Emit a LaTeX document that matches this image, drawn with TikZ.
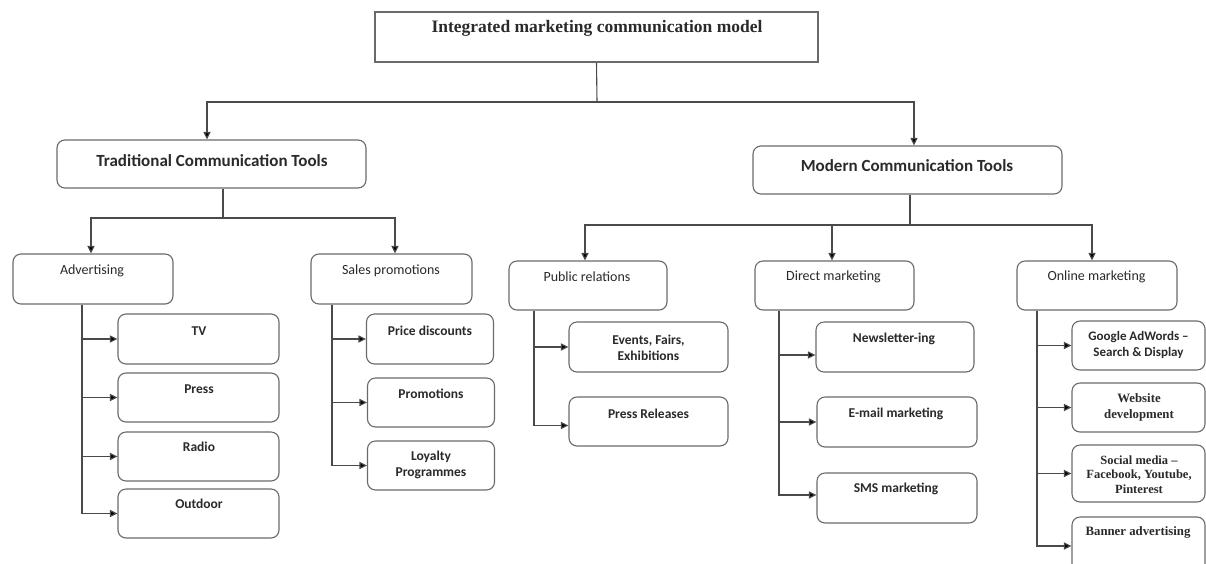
\documentclass[tikz,border=0pt]{standalone}
\usepackage{fontspec}
\setmainfont{Liberation Serif}
\newfontfamily\cfont[Ligatures=TeX]{Carlito}
\usetikzlibrary{arrows.meta}
\definecolor{boxgray}{HTML}{6A6A6A}
\definecolor{linegray}{HTML}{4A4A4A}
\definecolor{txt}{HTML}{2A2A2A}

\begin{document}
\begin{tikzpicture}[x=1pt,y=-1pt,
  box/.style={draw=boxgray, line width=1.1pt, rounded corners=8pt, inner sep=0pt, fill=white},
  sqbox/.style={draw=boxgray, line width=1.1pt, inner sep=0pt, fill=white},
  tmain/.style={font=\fontsize{17.5}{20}\selectfont\bfseries, text=txt, inner sep=0pt},
  tone/.style={font=\cfont\fontsize{17}{20}\selectfont\bfseries, text=txt, inner sep=0pt},
  ttwo/.style={font=\cfont\fontsize{14}{16}\selectfont, text=txt, inner sep=0pt},
  tleaf/.style={font=\cfont\fontsize{13.5}{16}\selectfont\bfseries, text=txt, align=center, inner sep=0pt},
  tserif/.style={font=\fontsize{12.8}{16}\selectfont\bfseries, text=txt, align=center, inner sep=0pt},
  link/.style={draw=linegray, line width=1.1pt},
  arr/.style={link, -{Triangle[length=7.5pt,width=7pt,fill=black]}}
]
\useasboundingbox (0,0) rectangle (1206,563);
\fill[white] (0,0) rectangle (1206,563);
\clip (0,0) rectangle (1206,563);

% ---------- root ----------
\node[sqbox, minimum width=443pt, minimum height=50pt] (root) at (596.5,37) {};
\node[tmain] (root-t) at (597,28) {Integrated marketing communication model};

% ---------- first level ----------
\node[box, minimum width=309pt, minimum height=48pt] (trad) at (211.5,164) {};
\node[tone] (trad-t) at (212,161) {Traditional Communication Tools};
\node[box, minimum width=309pt, minimum height=48pt] (modern) at (907.5,170) {};
\node[tone] (modern-t) at (907,166) {Modern Communication Tools};

\coordinate (j0) at (597,102);
\draw[link] (root.south) -- (j0);
\draw[arr] (j0) -| ([xshift=-4.5pt]trad.north);
\draw[arr] (j0) -| ([xshift=6.5pt]modern.north);

% ---------- second level: traditional ----------
\node[box, minimum width=160pt, minimum height=50pt] (adv) at (93,279) {};
\node[ttwo] (adv-t) at (92,271) {Advertising};
\node[box, minimum width=161pt, minimum height=50pt] (sales) at (391.5,279) {};
\node[ttwo] (sales-t) at (391,271) {Sales promotions};

\coordinate (j1) at (223,218);
\draw[link] (trad.south -| j1) -- (j1);
\draw[arr] (j1) -| ([xshift=-2pt]adv.north);
\draw[arr] (j1) -| ([xshift=3.5pt]sales.north);

% ---------- second level: modern ----------
\node[box, minimum width=158pt, minimum height=49pt] (pr) at (588,285.5) {};
\node[ttwo] (pr-t) at (587,277) {Public relations};
\node[box, minimum width=159pt, minimum height=49pt] (dm) at (834.5,285.5) {};
\node[ttwo] (dm-t) at (833.5,277) {Direct marketing};
\node[box, minimum width=160pt, minimum height=49pt] (online) at (1097,285.5) {};
\node[ttwo] (online-t) at (1096.5,277) {Online marketing};

\coordinate (j2) at (910,225);
\draw[link] (modern.south -| j2) -- (j2);
\draw[arr] (j2) -| ([xshift=-3pt]pr.north);
\draw[arr] (j2) -| ([xshift=-2.5pt]dm.north);
\draw[arr] (j2) -| ([xshift=-5pt]online.north);

% ---------- advertising channels ----------
\node[box, minimum width=161pt, minimum height=50pt] (tv) at (198.5,339) {};
\node[tleaf] (tv-t) at (199,331) {TV};
\node[box, minimum width=161pt, minimum height=49pt] (press) at (198.5,397.5) {};
\node[tleaf] (press-t) at (199,389) {Press};
\node[box, minimum width=161pt, minimum height=49pt] (radio) at (198.5,456.5) {};
\node[tleaf] (radio-t) at (199,447) {Radio};
\node[box, minimum width=161pt, minimum height=49pt] (outdoor) at (198.5,513.5) {};
\node[tleaf] (outdoor-t) at (199,504) {Outdoor};
\foreach \n in {tv,press,radio,outdoor}
  \draw[arr] ([xshift=-11pt]adv.south) |- (\n.west);

% ---------- sales promotion tools ----------
\node[box, minimum width=127pt, minimum height=50pt] (price) at (430,339) {};
\node[tleaf] (price-t) at (430,331) {Price discounts};
\node[box, minimum width=127pt, minimum height=49pt] (promo) at (431,402.5) {};
\node[tleaf] (promo-t) at (431,394) {Promotions};
\node[box, minimum width=127pt, minimum height=49pt] (loyal) at (431,465.5) {};
\node[tleaf] (loyal-t) at (431,465) {Loyalty\\Programmes};
\foreach \n in {price,promo,loyal}
  \draw[arr] ([xshift=-59.5pt]sales.south) |- (\n.west);

% ---------- public relations tools ----------
\node[box, minimum width=159pt, minimum height=50pt] (events) at (648.5,347) {};
\node[tleaf] (events-t) at (648.5,348) {Events, Fairs,\\Exhibitions};
\node[box, minimum width=159pt, minimum height=49pt] (releases) at (648.5,421.5) {};
\node[tleaf] (releases-t) at (648.5,414) {Press Releases};
\draw[arr] ([xshift=-54pt]pr.south) |- (events.west);
\draw[arr] ([xshift=-54pt]pr.south) |- ([yshift=-4pt]releases.west);

% ---------- direct marketing tools ----------
\node[box, minimum width=158pt, minimum height=50pt] (news) at (895,347) {};
\node[tleaf] (news-t) at (894,339) {Newsletter-ing};
\node[box, minimum width=160pt, minimum height=50pt] (email) at (897,422) {};
\node[tleaf] (email-t) at (896,414) {E-mail marketing};
\node[box, minimum width=160pt, minimum height=50pt] (sms) at (897,498) {};
\node[tleaf] (sms-t) at (896,489) {SMS marketing};
\draw[arr] ([xshift=-55.5pt]dm.south) |- ([yshift=-8pt]news.west);
\draw[arr] ([xshift=-55.5pt]dm.south) |- (email.west);
\draw[arr] ([xshift=-55.5pt]dm.south) |- ([yshift=3pt]sms.west);

% ---------- online marketing tools ----------
\node[box, minimum width=133pt, minimum height=49pt] (google) at (1138.5,345.5) {};
\node[tleaf, font=\cfont\fontsize{13}{16}\selectfont\bfseries] (google-t) at (1138.5,345) {Google AdWords –\\Search \& Display};
\node[box, minimum width=133pt, minimum height=49pt] (web) at (1138.5,407.5) {};
\node[tserif] (web-t) at (1139,407) {Website\\development};
\node[box, minimum width=133pt, minimum height=57pt] (social) at (1138.5,473.5) {};
\node[tserif, font=\fontsize{12.5}{14.5}\selectfont\bfseries] (social-t) at (1139,474.5) {Social media –\\Facebook, Youtube,\\Pinterest};
\node[box, minimum width=133pt, minimum height=58pt] (banner) at (1138.5,546) {};
\node[tserif] (banner-t) at (1138,532) {Banner advertising};
\foreach \n in {google,web,social,banner}
  \draw[arr] ([xshift=-60pt]online.south) |- (\n.west);
\end{tikzpicture}
\end{document}
